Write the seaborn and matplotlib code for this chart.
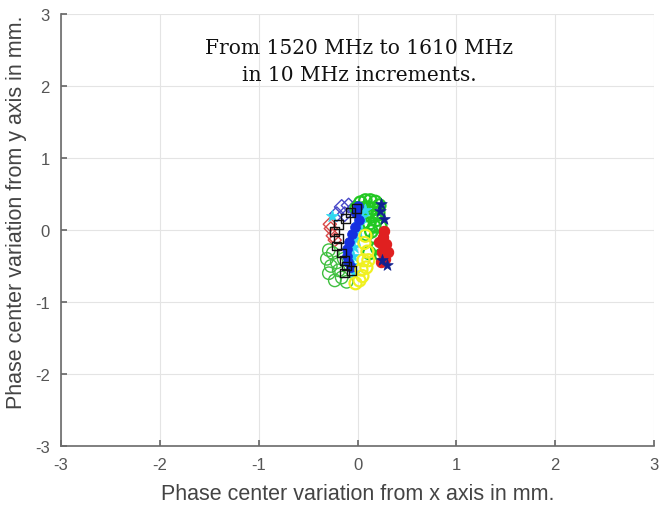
import matplotlib
matplotlib.use("Agg")
import matplotlib.pyplot as plt
import seaborn as sns
import pandas as pd

sns.set_theme(style="white")
plt.rcParams['font.family'] = ['Liberation Sans', 'DejaVu Sans']

# ---- data (in mm) ----
freqs = ["1520", "1530", "1540", "1550", "1560", "1570", "1580", "1590", "1600", "1610"]

x_1520 = [-0.16, -0.09, -0.03, -0.21, -0.13]
y_1520 = [0.32, 0.34, 0.31, 0.22, 0.22]

x_1530 = [-0.26, 0.08, 0.05, 0.02, 0.00, -0.02, -0.04, -0.05, -0.05, -0.04]
y_1530 = [0.20, 0.28, 0.18, 0.08, -0.02, -0.12, -0.24, -0.36, -0.48, -0.60]

x_1540 = [-0.07, -0.12, -0.19, -0.23, -0.19, -0.21, -0.16, -0.13, -0.11, -0.13, -0.06, -0.01]
y_1540 = [0.24, 0.16, 0.08, -0.02, -0.12, -0.22, -0.32, -0.42, -0.50, -0.60, -0.56, 0.30]

x_1550 = [-0.27, -0.25, -0.23, -0.28]
y_1550 = [0.02, -0.08, -0.14, 0.08]

x_1560 = [-0.31, -0.27, -0.29, -0.23, -0.16, -0.25, -0.19, -0.11, -0.29, -0.21, -0.14]
y_1560 = [-0.40, -0.50, -0.60, -0.70, -0.66, -0.32, -0.56, -0.72, -0.28, -0.45, -0.40]

x_1570 = [0.03, 0.08, 0.13, 0.18, 0.22, 0.06, 0.11, 0.16, 0.21, 0.03, 0.09, 0.14, 0.19, 0.06, 0.12, 0.17, -0.01, 0.23, 0.14, 0.09, 0.18, 0.20, 0.24, 0.12]
y_1570 = [0.38, 0.41, 0.41, 0.39, 0.34, 0.30, 0.31, 0.29, 0.24, 0.22, 0.21, 0.19, 0.14, 0.10, 0.09, 0.05, 0.30, 0.05, -0.02, -0.06, -0.10, -0.25, -0.35, -0.32]

x_1580 = [0.02, -0.03, -0.06, -0.09, -0.11, -0.11, -0.10, -0.07, -0.02, 0.00]
y_1580 = [0.14, 0.04, -0.06, -0.16, -0.26, -0.36, -0.44, -0.52, 0.24, 0.34]

x_1590 = [0.07, 0.10, 0.06, 0.09, 0.05, -0.02, 0.11, 0.08, 0.02, 0.04]
y_1590 = [-0.18, -0.30, -0.42, -0.52, -0.64, -0.74, -0.42, -0.08, -0.70, -0.55]

x_1600 = [0.26, 0.29, 0.31, 0.28, 0.24, 0.27, 0.22, 0.25]
y_1600 = [-0.10, -0.20, -0.30, -0.40, -0.44, -0.02, -0.16, -0.30]

x_1610 = [0.24, 0.27, 0.23, 0.30, 0.25]
y_1610 = [0.36, 0.15, 0.26, -0.48, -0.42]

title_lines = "From 1520 MHz to 1610 MHz\nin 10 MHz increments."
x_label = "Phase center variation from x axis in mm."
y_label = "Phase center variation from y axis in mm."
ticks = [-3, -2, -1, 0, 1, 2, 3]

xs = [x_1520, x_1530, x_1540, x_1550, x_1560, x_1570, x_1580, x_1590, x_1600, x_1610]
ys = [y_1520, y_1530, y_1540, y_1550, y_1560, y_1570, y_1580, y_1590, y_1600, y_1610]

rows = []
for f, xv, yv in zip(freqs, xs, ys):
    for a, b in zip(xv, yv):
        rows.append({"freq": f, "x": a, "y": b})
df = pd.DataFrame(rows)

styles = {
    "1520": dict(color="#4848c8", marker="D", s=55, fill=False, lw=1.0, z=3),
    "1530": dict(color="#30d8f0", marker="*", s=85, fill=True, lw=0.5, z=4),
    "1540": dict(color="#111111", marker="s", s=38, fill=False, lw=1.0, z=5),
    "1550": dict(color="#d84848", marker="D", s=45, fill=False, lw=1.0, z=3),
    "1560": dict(color="#40c040", marker="o", s=80, fill=False, lw=1.0, z=3),
    "1570": dict(color="#22c822", marker="o", s=80, fill=False, lw=1.6, z=3),
    "1580": dict(color="#1530e0", marker="o", s=50, fill=True, lw=0.5, z=4),
    "1590": dict(color="#f0f020", marker="o", s=75, fill=False, lw=1.6, z=4),
    "1600": dict(color="#e02020", marker="o", s=55, fill=True, lw=0.8, z=3),
    "1610": dict(color="#102090", marker="*", s=75, fill=True, lw=0.5, z=4),
}

fig = plt.figure(figsize=(6.59, 5.06), dpi=100)
ax = fig.add_axes([61/659, 1-447/506, (654-61)/659, (447-15)/506])

for f in freqs:
    st = styles[f]
    sub = df[df["freq"] == f]
    if st["fill"]:
        sns.scatterplot(data=sub, x="x", y="y", ax=ax, color=st["color"], marker=st["marker"],
                        s=st["s"], linewidth=st["lw"], edgecolor=st["color"], legend=False, zorder=st["z"])
    else:
        sns.scatterplot(data=sub, x="x", y="y", ax=ax, marker=st["marker"], s=st["s"],
                        facecolor="none", edgecolor=st["color"], linewidth=st["lw"], legend=False, zorder=st["z"])

ax.set_xlim(-3, 3)
ax.set_ylim(-3, 3)
ax.set_xticks(ticks)
ax.set_yticks(ticks)
ax.set_xticklabels([str(t) for t in ticks], color="#555555", fontsize=12)
ax.set_yticklabels([str(t) for t in ticks], color="#555555", fontsize=12)
ax.grid(True, color="#e4e4e4", linewidth=0.8)
ax.set_axisbelow(True)
for side in ["top", "right"]:
    ax.spines[side].set_visible(False)
for side in ["left", "bottom"]:
    ax.spines[side].set_color("#6a6a6a")
    ax.spines[side].set_linewidth(1.2)
ax.tick_params(direction="in", length=4, color="#6a6a6a", left=True, bottom=True, pad=8)
ax.set_xlabel(x_label, fontsize=15.5, color="#444444", labelpad=8)
ax.set_ylabel(y_label, fontsize=15.5, color="#444444")
ax.yaxis.set_label_coords(-0.057, 0.544)

ax.text(0.02, 2.35, title_lines, ha="center", va="center", fontsize=14.5,
        family=["DejaVu Serif"], color="#111111", linespacing=1.5)

fig.savefig("out.png", dpi=100)
